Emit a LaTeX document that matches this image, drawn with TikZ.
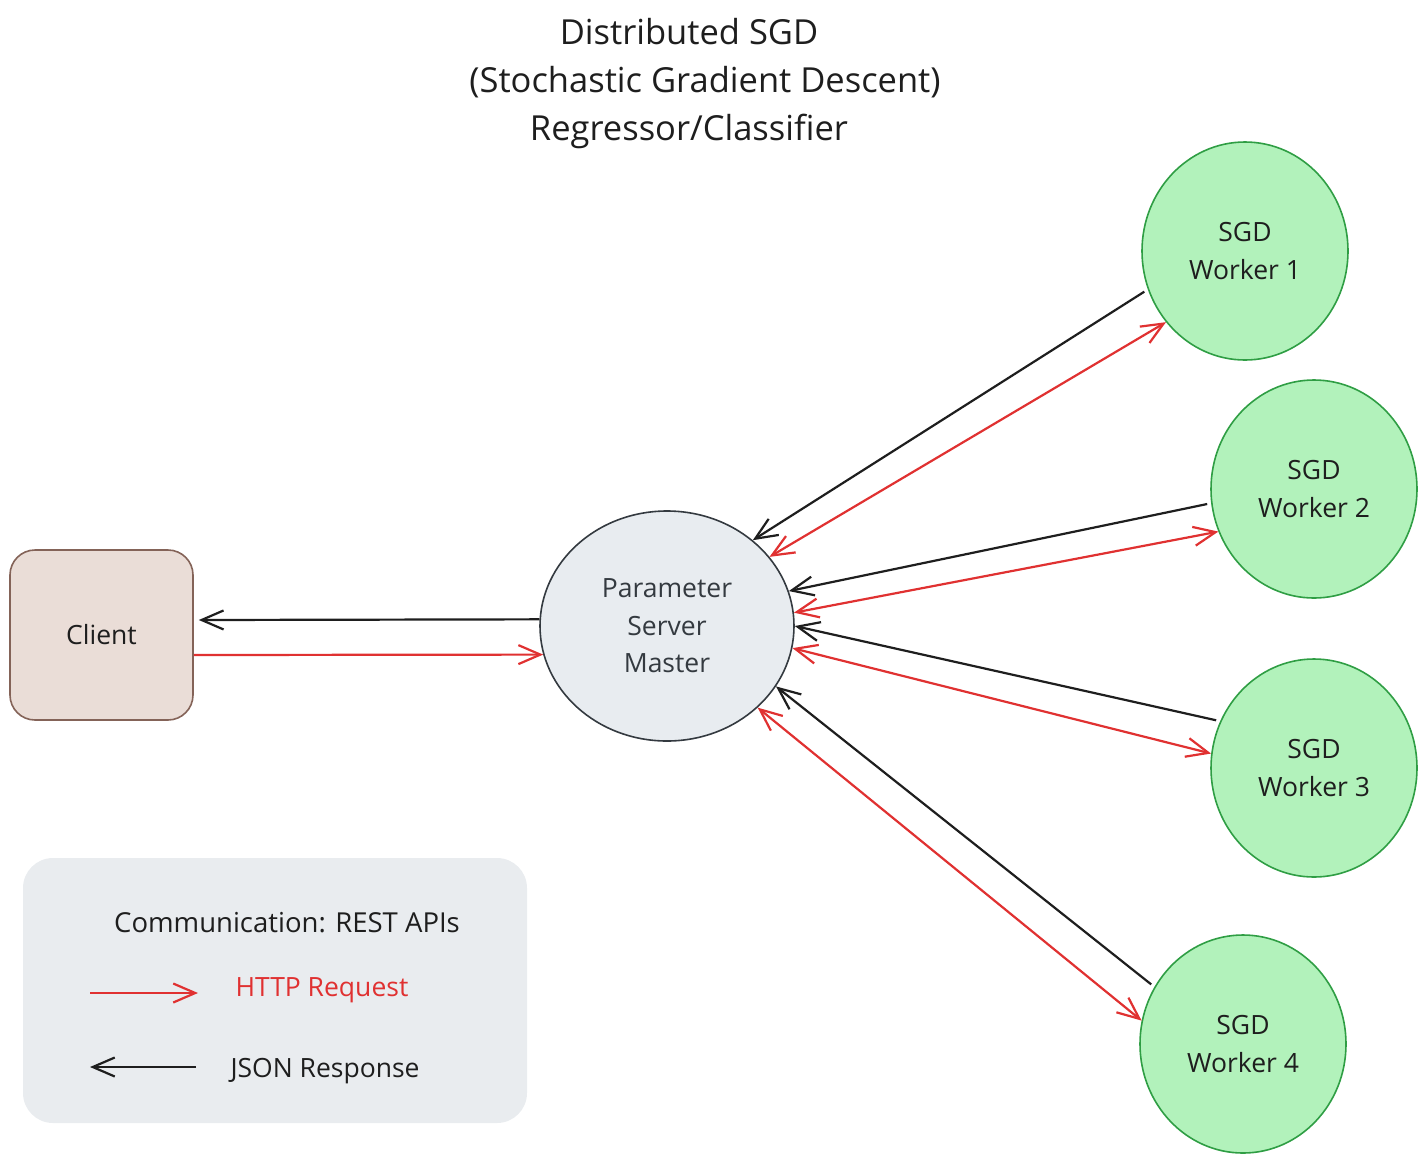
\documentclass[tikz,border=0pt]{standalone}
\usepackage{fontspec}
\setmainfont{Open Sans}
\usetikzlibrary{arrows.meta,shapes.geometric,calc}
\definecolor{redc}{HTML}{E03131}
\definecolor{blk}{HTML}{1E1E1E}
\definecolor{psfill}{HTML}{E8ECF0}
\definecolor{psdraw}{HTML}{343A40}
\definecolor{wfill}{HTML}{B2F2BB}
\definecolor{wdraw}{HTML}{2F9E44}
\definecolor{cfill}{HTML}{EADDD7}
\definecolor{cdraw}{HTML}{846358}
\definecolor{lgfill}{HTML}{E9ECEF}
\tikzset{
  txt/.style={font=\fontsize{26.5}{37.5}\selectfont, text=blk, align=center},
  worker/.style={ellipse, draw=wdraw, fill=wfill, line width=1.6pt, minimum width=206pt, minimum height=218pt, inner sep=0pt, txt},
  psnode/.style={ellipse, draw=psdraw, fill=psfill, line width=1.6pt, minimum width=254pt, minimum height=230pt, inner sep=0pt, txt, text=psdraw},
  clientbox/.style={draw=cdraw, fill=cfill, rounded corners=25pt, line width=1.6pt, minimum width=183pt, minimum height=170pt, inner sep=0pt, txt},
  req/.style={draw=redc, line width=2.2pt, -{Straight Barb[length=22pt,width=19pt,line width=2.2pt]}},
  reqboth/.style={draw=redc, line width=2.2pt, {Straight Barb[length=22pt,width=19pt,line width=2.2pt]}-{Straight Barb[length=22pt,width=19pt,line width=2.2pt]}},
  resp/.style={draw=blk, line width=2.2pt, -{Straight Barb[length=22pt,width=19pt,line width=2.2pt]}},
}
\begin{document}
\begin{tikzpicture}[x=1pt,y=-1pt]
\useasboundingbox (0,0) rectangle (1427,1163);
% title
\node[txt, font=\fontsize{34.5}{48}\selectfont] (title) at (689,84) {Distributed SGD\\\hspace*{32pt}(Stochastic Gradient Descent)\\Regressor/Classifier};
% legend box
\node[fill=lgfill, rounded corners=30pt, minimum width=504pt, minimum height=265pt, inner sep=0pt] (legend) at (275,990.5) {};
\node[txt, font=\fontsize{27.5}{37.5}\selectfont] (lgtitle) at (287,923) {Communication: REST APIs};
\coordinate (lr1) at (90,993);
\coordinate (lr2) at (198,993);
\coordinate (lb1) at (196,1067);
\coordinate (lb2) at (90,1067);
\draw[req] (lr1) -- (lr2);
\draw[resp] (lb1) -- (lb2);
\node[txt, text=redc, anchor=west] (lgreq) at (232,990) {HTTP Request};
\node[txt, anchor=west] (lgresp) at (227,1071) {JSON Response};
% nodes
\node[clientbox] (client) at (101.5,635) {Client};
\node[psnode] (ps) at (667,626) {Parameter\\Server\\Master};
\node[worker] (w1) at (1245,251) {SGD\\Worker 1};
\node[worker] (w2) at (1314,489) {SGD\\Worker 2};
\node[worker] (w3) at (1314,768) {SGD\\Worker 3};
\node[worker] (w4) at (1243,1044) {SGD\\Worker 4};
% client connections
\draw[resp] (ps.177) -- ([xshift=5pt,yshift=15pt]client.east);
\draw[req] ([yshift=-20pt]client.east) -- (ps.193);
% worker connections
\draw[resp] ([shift={(202:4pt)}]w1.202) -- (ps.45.3);
\draw[reqboth] (ps.34.2) -- (w1.222.7);
\draw[resp] ([shift={(188:4pt)}]w2.188) -- (ps.16.7);
\draw[reqboth] (ps.6.2) -- (w2.204);
\draw[resp] ([shift={(154:4pt)}]w3.154.4) -- (ps.-0.5);
\draw[reqboth] (ps.-10) -- (w3.172.8);
\draw[resp] ([shift={(147:4pt)}]w4.147.4) -- (ps.-29.9);
\draw[reqboth] (ps.-42.3) -- (w4.167.7);
\end{tikzpicture}
\end{document}
